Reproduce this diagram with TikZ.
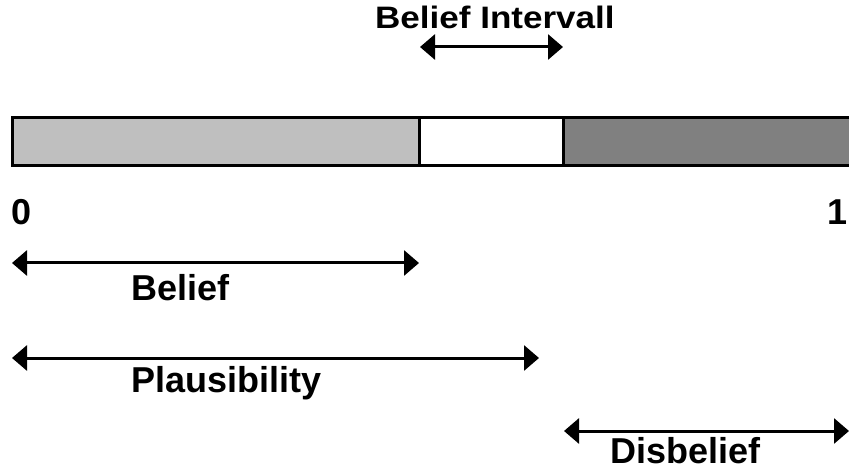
\documentclass[tikz,border=0pt]{standalone}
\usepackage{fontspec}
\setmainfont{Liberation Sans}
\usepackage{graphicx}
\usepackage{tikz}
\usetikzlibrary{arrows.meta}

\tikzset{
    lbl/.style={anchor=base west, inner sep=0pt, font=\fontsize{36}{40}\selectfont\bfseries},
    toplbl/.style={anchor=base west, inner sep=0pt, font=\fontsize{31}{36}\selectfont\bfseries},
    span/.style={line width=3pt, {Triangle[length=15pt,width=25pt]}-{Triangle[length=15pt,width=25pt]}},
    cell/.style={line width=3pt, draw=black}
}

\begin{document}
\begin{tikzpicture}[x=1pt, y=-1pt]
    \useasboundingbox (0,0) rectangle (849,473);

    % the bar
    \draw[cell, fill=black!25] (12,118) rectangle (419,166);
    \draw[cell, fill=white]    (419,118) rectangle (563,166);
    \draw[cell, fill=black!50] (563,118) rectangle (855,166);

    % scale ends
    \node[lbl] (zero) at (11,225) {0};
    \node[lbl, anchor=base east] (one) at (848,225) {1};

    % interval ends
    \coordinate (bi-l) at (420,47);   \coordinate (bi-r) at (563,47);
    \coordinate (be-l) at (12,263);   \coordinate (be-r) at (419,263);
    \coordinate (pl-l) at (12,358);   \coordinate (pl-r) at (539,358);
    \coordinate (di-l) at (564,431);  \coordinate (di-r) at (849,431);

    \draw[span] (bi-l) -- (bi-r);
    \draw[span] (be-l) -- (be-r);
    \draw[span] (pl-l) -- (pl-r);
    \draw[span] (di-l) -- (di-r);

    \node[toplbl] (interval) at (375,29) {\scalebox{1.13}[1]{Belief Intervall}};
    \node[lbl] (belief) at (131,300) {Belief};
    \node[lbl] (plaus) at (131,392) {Plausibility};
    \node[lbl] (disbel) at (610,463) {Disbelief};
    % \node[lbl] at (0,0) {};
\end{tikzpicture}
\end{document}
